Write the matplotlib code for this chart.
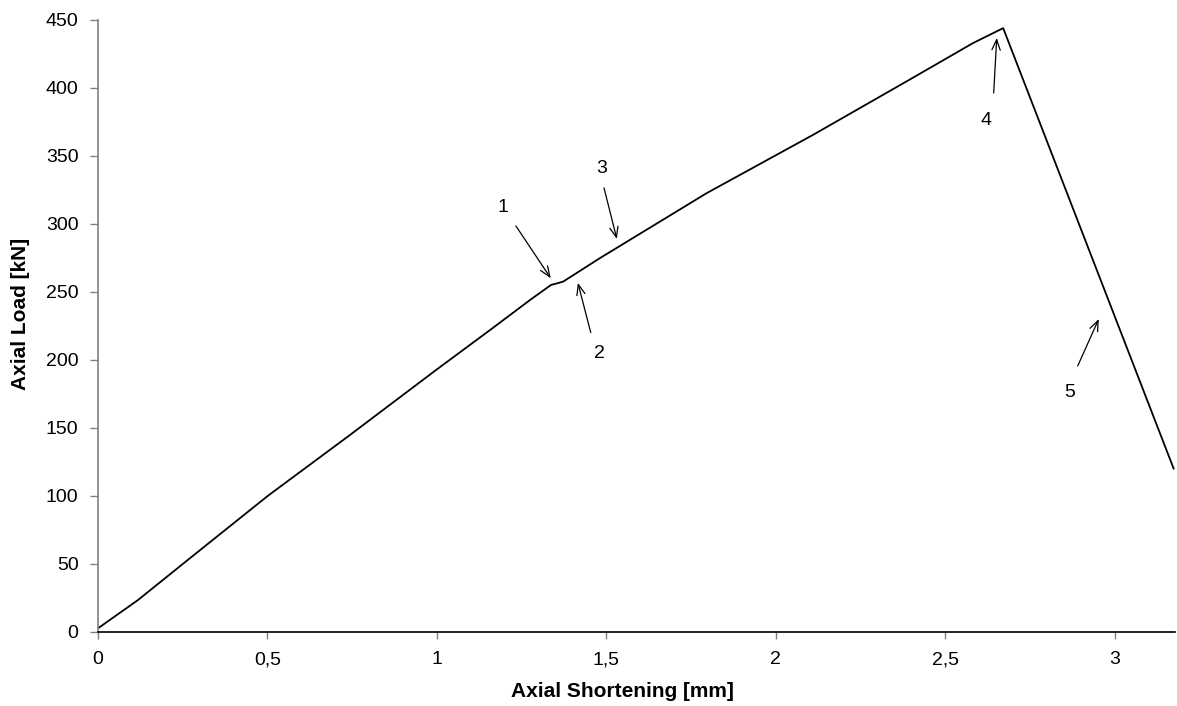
import matplotlib
matplotlib.use("Agg")
from matplotlib import pyplot as plt

shortening = [0.0, 0.118, 0.265, 0.501, 0.737, 0.998, 1.160, 1.278, 1.337,
              1.357, 1.373, 1.481, 1.796, 2.110, 2.385, 2.582, 2.671, 3.174]
load = [2.5, 23.3, 52.8, 99.9, 143.5, 192.6, 222.5, 244.6, 255.1,
        256.4, 257.6, 274.8, 322.6, 365.5, 404.7, 433.0, 444.0, 120.0]

xticks = [0, 0.5, 1, 1.5, 2, 2.5, 3]
xtick_labels = ["0", "0,5", "1", "1,5", "2", "2,5", "3"]
yticks = [0, 50, 100, 150, 200, 250, 300, 350, 400, 450]

# event markers: label, text pos, arrow tail, arrow head
marks = ["1", "2", "3", "4", "5"]
mark_text = [(1.195, 312), (1.48, 205), (1.487, 341), (2.62, 376), (2.867, 176)]
mark_tail = [(1.233, 298.5), (1.454, 220), (1.493, 326.5), (2.643, 396.3), (2.891, 195.5)]
mark_head = [(1.336, 260), (1.416, 256.6), (1.531, 288.9), (2.652, 436.8), (2.953, 230)]


def main():
    plt.rcParams['font.family'] = ['Liberation Sans', 'DejaVu Sans']
    fig = plt.figure(figsize=(11.77, 7.06), dpi=100)
    ax = fig.add_axes([0.0833, 0.1053, 0.9147, 0.8664])

    ax.plot(shortening, load, color='black', lw=1.3)

    for lab, tp, tail, head in zip(marks, mark_text, mark_tail, mark_head):
        ax.text(tp[0], tp[1], lab, fontsize=14, ha='center', va='center')
        ax.annotate('', xy=head, xytext=tail,
                    arrowprops=dict(arrowstyle='->,head_length=0.75,head_width=0.3',
                                    lw=0.9, color='black', shrinkA=0, shrinkB=0))

    ax.set_xlim(0, 3.177)
    ax.set_ylim(0, 450)
    ax.set_xticks(xticks)
    ax.set_xticklabels(xtick_labels)
    ax.set_yticks(yticks)

    ax.spines['top'].set_visible(False)
    ax.spines['right'].set_visible(False)
    ax.spines['left'].set_color('#808080')
    ax.spines['left'].set_linewidth(1.2)
    ax.spines['bottom'].set_color('black')
    ax.spines['bottom'].set_linewidth(1.2)
    ax.tick_params(axis='y', direction='out', length=6, width=1, color='#808080',
                   labelsize=14, pad=8)
    ax.tick_params(axis='x', direction='out', length=5, width=1, color='#808080',
                   labelsize=14, pad=9)

    ax.set_xlabel("Axial Shortening [mm]", fontsize=15, fontweight='bold')
    ax.set_ylabel("Axial Load [kN]", fontsize=15, fontweight='bold')
    ax.xaxis.set_label_coords(0.487, -0.083)
    ax.yaxis.set_label_coords(-0.063, 0.52)

    fig.savefig("out.png", dpi=100)


if __name__ == '__main__':
    main()
